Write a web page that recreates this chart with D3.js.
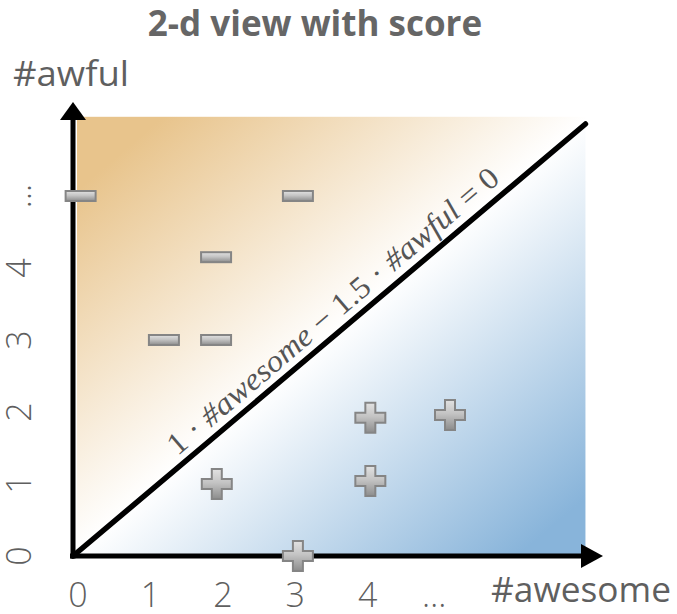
<!DOCTYPE html>
<html>
<head>
<meta charset="utf-8">
<script src="https://cdn.jsdelivr.net/npm/d3@7"></script>
<style>
  body { margin: 0; background: #fff; }
  text { font-family: "Open Sans", Lato, sans-serif; fill: #5f5f5f; }
</style>
</head>
<body>
<svg class="chart" width="677" height="614"></svg>
<script>
// tick labels on both axes (last one stands for "more")
var xTicks = ["0", "1", "2", "3", "4", "\u2026"];
var yTicks = ["0", "1", "2", "3", "4", "\u2026"];

// reviews with label "-" : [#awesome, #awful]
var negatives = [[0.05, 5], [3.05, 5], [1.92, 4.15], [1.2, 3], [1.92, 3]];
// reviews with label "+"
var positives = [[1.93, 1.0], [3.05, 0], [4.05, 1.04], [4.05, 1.92], [5.15, 1.96]];

// decision boundary 1*awesome - 1.5*awful = 0, drawn across the shaded box
var boundary = [[0, 0], [7.02, 6.0]];

(function(){
    var svg = d3.select("svg.chart"),
    width = +svg.attr("width"),
    height = +svg.attr("height");

    var x = d3.scaleLinear().domain([0, 7]).range([77, 584]);
    var y = d3.scaleLinear().domain([0, 6]).range([556, 124]);

    var defs = svg.append("defs");

    // background gradient runs across the boundary line
    var p0 = [x(boundary[0][0]), y(boundary[0][1])], p1 = [x(boundary[1][0]), y(boundary[1][1])];
    var dx = p1[0] - p0[0], dy = p1[1] - p0[1], len = Math.sqrt(dx*dx + dy*dy);
    var nx = -dy / len, ny = dx / len;   // normal pointing to lower right
    var cx = (x(0) + x(7.02)) / 2, cy = (y(0) + y(6.1)) / 2;
    var reach = 300;
    var bg = defs.append("linearGradient")
        .attr("id", "bg")
        .attr("gradientUnits", "userSpaceOnUse")
        .attr("x1", cx - nx*reach).attr("y1", cy - ny*reach)
        .attr("x2", cx + nx*reach).attr("y2", cy + ny*reach);
    bg.append("stop").attr("offset", "0.04").attr("stop-color", "#e8c48c");
    bg.append("stop").attr("offset", "0.5").attr("stop-color", "#ffffff");
    bg.append("stop").attr("offset", "0.98").attr("stop-color", "#88b4da");

    var markFill = defs.append("linearGradient")
        .attr("id", "mark").attr("x1", 0).attr("y1", 0).attr("x2", 0).attr("y2", 1);
    markFill.append("stop").attr("offset", "0").attr("stop-color", "#e2e2e2");
    markFill.append("stop").attr("offset", "0.45").attr("stop-color", "#c4c4c4");
    markFill.append("stop").attr("offset", "1").attr("stop-color", "#8c8c8c");

    svg.append("rect")
        .attr("x", x(0))
        .attr("y", y(6.1))
        .attr("width", x(7.02) - x(0))
        .attr("height", y(0) - y(6.1))
        .attr("fill", "url(#bg)");

    // boundary line
    svg.append("line")
        .attr("x1", x(boundary[0][0]) - 4).attr("y1", y(boundary[0][1]))
        .attr("x2", x(boundary[1][0])).attr("y2", y(boundary[1][1]))
        .attr("stroke", "#000")
        .attr("stroke-width", 5.5)
        .attr("stroke-linecap", "round");

    // equation along the line
    var ang = Math.atan2(dy, dx) * 180 / Math.PI;
    var mx = p0[0] + dx*0.53, my = p0[1] + dy*0.53;
    var eq = svg.append("text")
        .attr("transform", "translate(" + (mx - nx*11) + "," + (my - ny*11) + ") rotate(" + ang + ")")
        .attr("text-anchor", "middle")
        .attr("textLength", 425)
        .attr("lengthAdjust", "spacingAndGlyphs")
        .style("font-family", "'Liberation Serif', 'DejaVu Serif', serif")
        .style("font-size", "31px")
        .style("fill", "#555");
    eq.append("tspan").text("1 \u00b7 ");
    eq.append("tspan").style("font-style", "italic").text("#awesome");
    eq.append("tspan").text(" \u2212 1.5 \u00b7 ");
    eq.append("tspan").style("font-style", "italic").text("#awful");
    eq.append("tspan").text(" = 0");

    // axes with arrow heads
    var ax = svg.append("g").attr("id", "axes");
    ax.append("line")
        .attr("x1", 70).attr("y1", y(0))
        .attr("x2", 584).attr("y2", y(0))
        .attr("stroke", "#000").attr("stroke-width", 5);
    ax.append("path")
        .attr("d", "M581," + (y(0) - 12) + "L603," + y(0) + "L581," + (y(0) + 12) + "Z")
        .attr("fill", "#000");
    ax.append("line")
        .attr("x1", 73).attr("y1", y(0) + 2.5)
        .attr("x2", 73).attr("y2", 118)
        .attr("stroke", "#000").attr("stroke-width", 5);
    ax.append("path")
        .attr("d", "M60,120L73,102L86,120Z")
        .attr("fill", "#000");

    // tick labels
    svg.append("g")
        .selectAll("text")
        .data(xTicks)
        .enter().append("text")
        .attr("x", function(d, i) { return x(i) + (i == 5 ? -5 : 1); })
        .attr("y", 607)
        .attr("text-anchor", "middle")
        .style("font-size", "34px")
        .style("font-weight", 300)
        .text(function(d) { return d; });

    svg.append("g")
        .selectAll("text")
        .data(yTicks)
        .enter().append("text")
        .attr("transform", function(d, i) { return "translate(31," + y(i) + ") rotate(-90)"; })
        .attr("text-anchor", "middle")
        .style("font-size", "34px")
        .style("font-weight", 300)
        .text(function(d) { return d; });

    svg.append("text")
        .attr("x", 581).attr("y", 602)
        .attr("text-anchor", "middle")
        .attr("textLength", 180)
        .attr("lengthAdjust", "spacingAndGlyphs")
        .style("font-size", "34px")
        .text("#awesome");

    svg.append("text")
        .attr("x", 71).attr("y", 86)
        .attr("text-anchor", "middle")
        .attr("textLength", 116)
        .attr("lengthAdjust", "spacingAndGlyphs")
        .style("font-size", "34px")
        .text("#awful");

    svg.append("text")
        .attr("x", 315).attr("y", 36)
        .attr("text-anchor", "middle")
        .style("font-size", "35px")
        .style("font-weight", "bold")
        .style("fill", "#666")
        .text("2-d view with score");

    // markers
    svg.append("g")
        .attr("id", "neg")
        .selectAll("rect")
        .data(negatives)
        .enter().append("rect")
        .attr("x", function(d) { return x(d[0]) - 15; })
        .attr("y", function(d) { return y(d[1]) - 5; })
        .attr("width", 30)
        .attr("height", 10)
        .attr("fill", "url(#mark)")
        .attr("stroke", "#858585")
        .attr("stroke-width", 2);

    var plusPath = "M-5,-15H5V-5H15V5H5V15H-5V5H-15V-5H-5Z";
    svg.append("g")
        .attr("id", "pos")
        .selectAll("path")
        .data(positives)
        .enter().append("path")
        .attr("d", plusPath)
        .attr("transform", function(d) { return "translate(" + x(d[0]) + "," + y(d[1]) + ")"; })
        .attr("fill", "url(#mark)")
        .attr("stroke", "#858585")
        .attr("stroke-width", 2);
})();
</script>
</body>
</html>
